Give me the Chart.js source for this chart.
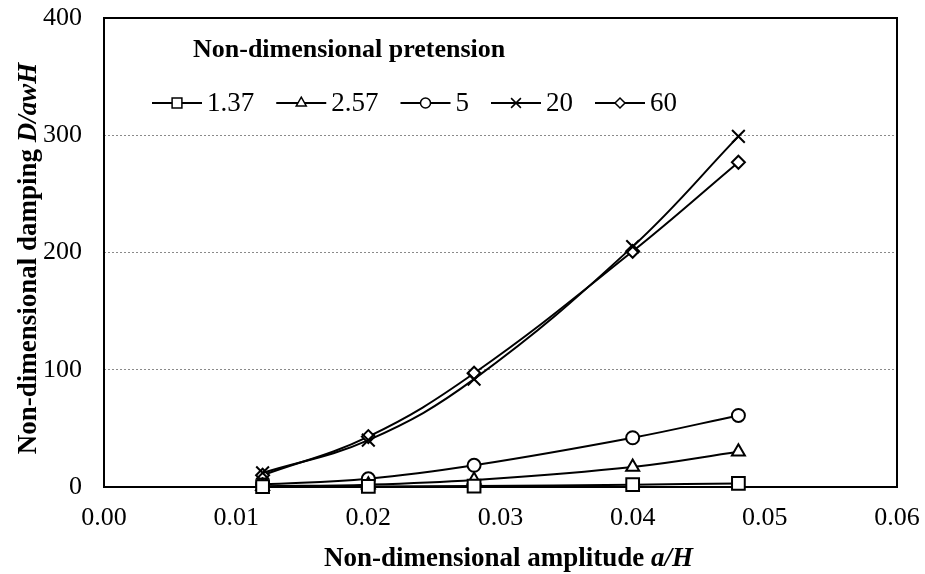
<!DOCTYPE html>
<html>
<head>
<meta charset="utf-8">
<script src="https://cdn.jsdelivr.net/npm/chart.js@4.4.1/dist/chart.umd.min.js"></script>
<style>
    html, body { margin: 0; padding: 0; background: #fff; }
    #wrap { width: 925px; height: 574px; }
</style>
</head>
<body>
<div id="wrap"><canvas id="dampingChart"></canvas></div>
<script>
// x values (a/H) shared by every series
const amplitudes = [0.012, 0.02, 0.028, 0.04, 0.048];
const pretensionLabels = ['1.37', '2.57', '5', '20', '60'];

// damping D/awH per pretension
const damping137 = [0.3, 0.5, 0.8, 2, 3];
const damping257 = [0.6, 2, 6, 17, 30];
const damping5 = [2, 7, 18.5, 42, 61];
const damping20 = [12, 40, 92, 205, 299];
const damping60 = [10, 43, 97, 201, 277];

const xTicks = [0, 0.01, 0.02, 0.03, 0.04, 0.05, 0.06];
const yTicks = [0, 100, 200, 300, 400];

const markerStyles = ['rect', 'triangle', 'circle', 'crossRot', 'rectRot'];
const markerRadius = [9, 7.5, 6.5, 9, 6.5];

const serif = '"Liberation Serif", "Times New Roman", serif';
const allSeries = [damping137, damping257, damping5, damping20, damping60];

const datasets = allSeries.map(function (values, i) {
    return {
        label: pretensionLabels[i],
        data: values.map((v, j) => ({ x: amplitudes[j], y: v })),
        borderColor: '#000',
        borderWidth: 2,
        backgroundColor: '#fff',
        pointStyle: markerStyles[i],
        pointRadius: markerRadius[i],
        pointBorderWidth: 2,
        pointBorderColor: '#000',
        pointBackgroundColor: '#fff',
        tension: 0.4,
        clip: false
    };
});

// text with a plain part and an italic part, centred on (cx, cy)
function drawRichText(ctx, parts, cx, cy, angle) {
    ctx.save();
    ctx.translate(cx, cy);
    ctx.rotate(angle);
    ctx.textBaseline = 'middle';
    ctx.textAlign = 'left';
    ctx.fillStyle = '#000';
    let total = 0;
    parts.forEach(p => { ctx.font = p.font; total += ctx.measureText(p.text).width; });
    let x = -total / 2;
    parts.forEach(p => {
        ctx.font = p.font;
        ctx.fillText(p.text, x, 0);
        x += ctx.measureText(p.text).width;
    });
    ctx.restore();
}

const frameAndTitles = {
    id: 'frameAndTitles',
    beforeDatasetsDraw(chart) {
        const ctx = chart.ctx;
        const a = chart.chartArea;
        ctx.save();
        ctx.strokeStyle = '#000';
        ctx.lineWidth = 2;
        ctx.strokeRect(a.left, a.top, a.right - a.left, a.bottom - a.top);
        ctx.restore();
    },
    afterDraw(chart) {
        const ctx = chart.ctx;
        const a = chart.chartArea;
        const bold = 'bold 27px ' + serif;
        const boldItalic = 'italic bold 27px ' + serif;
        drawRichText(ctx, [
            { text: 'Non-dimensional amplitude ', font: bold },
            { text: 'a/H', font: boldItalic }
        ], (a.left + a.right) / 2 + 8, 559, 0);
        drawRichText(ctx, [
            { text: 'Non-dimensional damping ', font: bold },
            { text: 'D/awH', font: boldItalic }
        ], 29, (a.top + a.bottom) / 2 + 6, -Math.PI / 2);

        // legend: title, then line + marker + label for each series
        ctx.save();
        ctx.fillStyle = '#000';
        ctx.textBaseline = 'alphabetic';
        ctx.font = 'bold 26px ' + serif;
        ctx.fillText('Non-dimensional pretension', 193, 57);
        ctx.font = '27px ' + serif;
        ctx.textBaseline = 'middle';
        let x = 152;
        const y = 103;
        chart.data.datasets.forEach(function (ds, i) {
            ctx.strokeStyle = '#000';
            ctx.lineWidth = 2;
            ctx.beginPath();
            ctx.moveTo(x, y);
            ctx.lineTo(x + 50, y);
            ctx.stroke();
            ctx.fillStyle = '#fff';
            ctx.lineWidth = 1.5;
            Chart.helpers.drawPoint(ctx, {
                pointStyle: ds.pointStyle,
                radius: markerRadius[i] * 0.77,
                rotation: 0,
                borderWidth: 1.5
            }, x + 25, y);
            ctx.fillStyle = '#000';
            ctx.fillText(ds.label, x + 55, y + 1);
            x += 55 + ctx.measureText(ds.label).width + 22;
        });
        ctx.restore();
    }
};

const ctx = document.getElementById('dampingChart').getContext('2d');
const dampingChart = new Chart(ctx, {
    type: 'line',
    data: { datasets: datasets },
    options: {
        responsive: true,
        maintainAspectRatio: false,
        animation: false,
        layout: { padding: { top: 18, right: 28, left: 0, bottom: 0 } },
        plugins: {
            legend: { display: false },
            tooltip: { enabled: false }
        },
        scales: {
            x: {
                type: 'linear',
                min: 0,
                max: 0.06,
                afterFit: s => { s.height = 87; s.paddingLeft = 0; s.paddingRight = 0; },
                afterBuildTicks: s => { s.ticks = xTicks.map(v => ({ value: v })); },
                ticks: {
                    padding: 16,
                    color: '#000',
                    font: { family: serif, size: 26 },
                    callback: v => v.toFixed(2)
                },
                grid: { display: false, drawTicks: false },
                border: { display: false }
            },
            y: {
                min: 0,
                max: 400,
                afterFit: s => { s.width = 104; s.paddingTop = 0; s.paddingBottom = 0; },
                afterBuildTicks: s => { s.ticks = yTicks.map(v => ({ value: v })); },
                ticks: {
                    padding: 22,
                    color: '#000',
                    font: { family: serif, size: 26 }
                },
                grid: { color: '#8a8a8a', lineWidth: 1, drawTicks: false },
                border: { display: false, dash: [2, 2] }
            }
        }
    },
    plugins: [frameAndTitles]
});
</script>
</body>
</html>
